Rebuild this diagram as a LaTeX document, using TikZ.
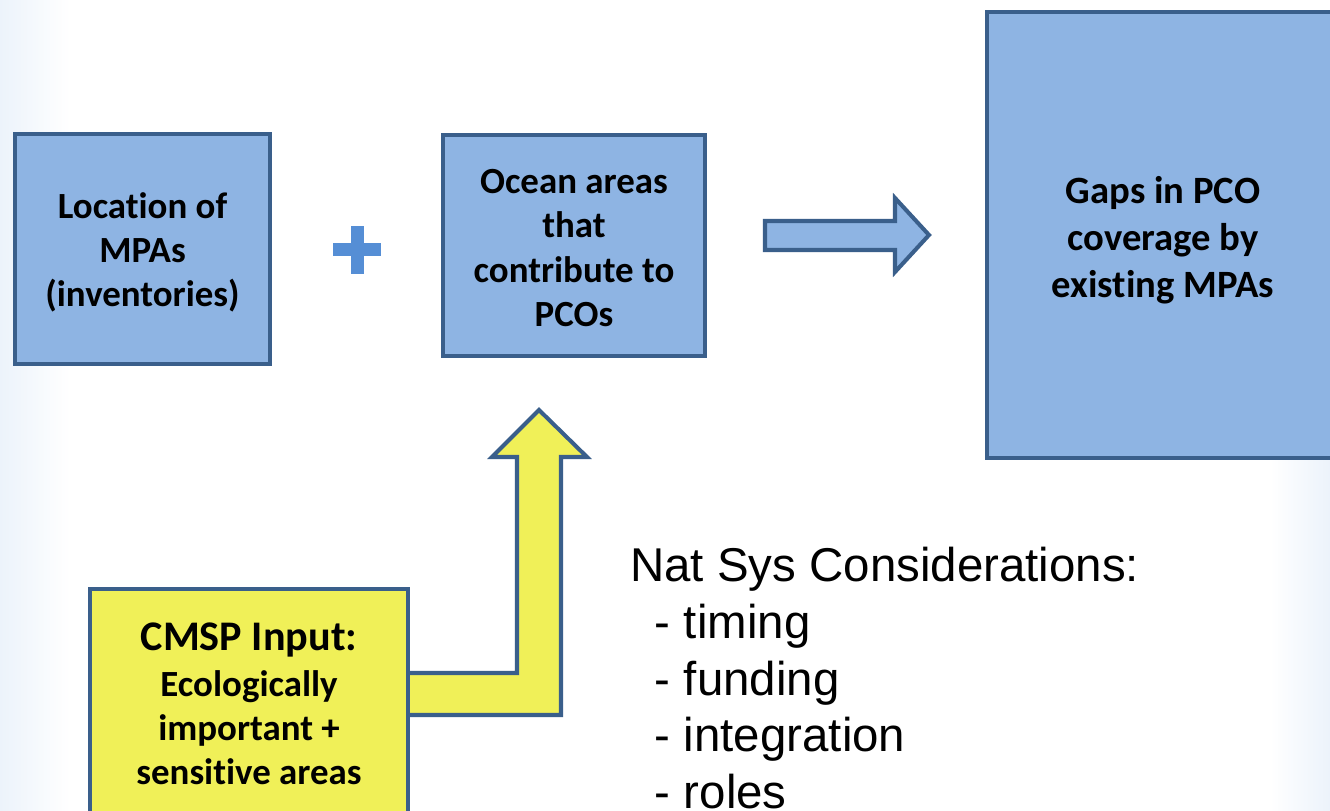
\documentclass[tikz,border=0pt]{standalone}
\usepackage{fontspec}
\setmainfont{Carlito}[Ligatures={NoCommon}]
\newfontfamily\arialfont{Liberation Sans}
\usetikzlibrary{positioning}

\definecolor{boxblue}{RGB}{142,180,227}
\definecolor{edgeblue}{RGB}{58,95,139}
\definecolor{plusblue}{RGB}{85,142,213}
\definecolor{boxyellow}{RGB}{240,240,88}
\definecolor{paleblue}{RGB}{236,243,251}

\tikzset{
	bluebox/.style={draw=edgeblue, fill=boxblue, line width=2.3pt, align=center,
		font=\bfseries\fontsize{21}{25}\selectfont, inner sep=0pt},
	yellowbox/.style={draw=edgeblue, fill=boxyellow, line width=2.3pt, inner sep=0pt},
	blockarrow/.style={draw=edgeblue, line width=2.3pt, line join=miter}
}

\begin{document}
\begin{tikzpicture}[x=0.02cm, y=-0.02cm]
	\useasboundingbox (0,0) rectangle (1330,811);
	\clip (0,0) rectangle (1330,811);
	% faint slide background
	\fill[white] (0,0) rectangle (1330,811);
	\fill[left color=paleblue, right color=white] (0,0) rectangle (70,811);
	\fill[left color=white, right color=paleblue] (1270,380) rectangle (1330,811);

	\node[bluebox, minimum width=5.1cm, minimum height=4.6cm] (loc) at (142.5,249) {};
	\node[font=\bfseries\fontsize{21}{25}\selectfont, align=center] (locText) at (142.5,252) {Location of\\MPAs\\(inventories)};
	\node[bluebox, minimum width=5.24cm, minimum height=4.42cm] (ocean) at (574,245.5) {};
	\node[font=\bfseries\fontsize{21}{25.2}\selectfont, align=center] (oceanText) at (574,248) {Ocean areas\\that\\contribute to\\PCOs};
	\node[bluebox, minimum width=7.04cm, minimum height=8.92cm] (gaps) at (1163,235) {};
	\node[font=\bfseries\fontsize{22}{26.7}\selectfont, align=center] (gapsText) at (1163,240) {Gaps in PCO\\coverage by\\existing MPAs};

	% plus sign
	\fill[plusblue] (333,243.5) rectangle (381,256);
	\fill[plusblue] (351,226) rectangle (363.5,274);

	% arrow to the result
	\draw[blockarrow, fill=boxblue] (765,221) -- (895,221) -- (895,198) -- (929,235)
		-- (895,272) -- (895,250) -- (765,250) -- cycle;

	% bent arrow from the CMSP input
	\draw[blockarrow, fill=boxyellow] (380,673) -- (517,673) -- (517,457) -- (492,457) -- (539,410)
		-- (587,457) -- (561,457) -- (561,715) -- (380,715) -- cycle;

	\node[yellowbox, minimum width=6.36cm, minimum height=6cm] (cmsp) at (249,739) {};
	\node[align=center, font=\bfseries\fontsize{21}{25}\selectfont] (cmspText) at (249,704)
		{{\fontsize{24}{26}\selectfont CMSP Input:}\\[1pt]Ecologically\\important +\\sensitive areas};

	\node[anchor=north west, inner sep=0pt, align=left, font=\arialfont\fontsize{27}{32.3}\selectfont] (natsys) at (630,547)
		{Nat Sys Considerations:\\
		\hspace*{14pt}- timing\\
		\hspace*{14pt}- funding\\
		\hspace*{14pt}- integration\\
		\hspace*{14pt}- roles};
\end{tikzpicture}
\end{document}
